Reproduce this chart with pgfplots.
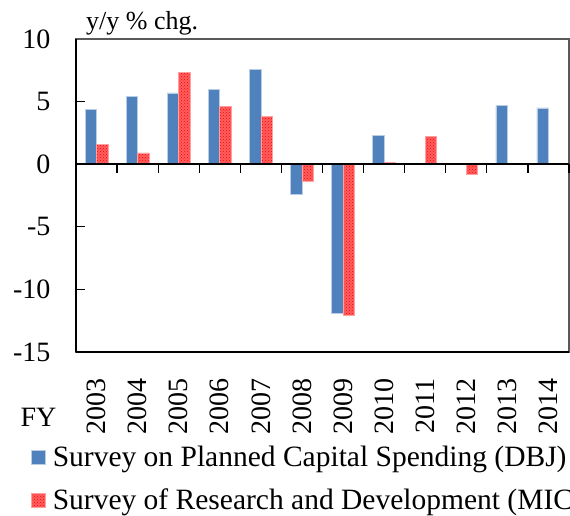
\documentclass[border=0pt]{standalone}
\usepackage{pgfplots}
\pgfplotsset{compat=1.18}
\usepackage{fontspec}
\setmainfont{Liberation Serif}
\usetikzlibrary{patterns}
\definecolor{dbjblue}{RGB}{79,129,189}
\definecolor{dbjedge}{RGB}{185,205,229}
\definecolor{micred}{RGB}{255,95,95}
\begin{document}
\begin{tikzpicture}
\useasboundingbox (0,0) rectangle (570pt,516pt);
\begin{axis}[
  at={(76pt,164pt)}, anchor=south west,
  scale only axis, width=493pt, height=313pt,
  xmin=-0.5, xmax=11.5, ymin=-15, ymax=10,
  ytick={-15,-10,-5,0,5,10},
  yticklabels={-15,-10,-5,0,5,10},
  ytick pos=left, ytick align=inside,
  major tick length=9pt,
  y tick style={black, line width=1.2pt},
  xtick={0,...,11},
  xticklabels={2003,2004,2005,2006,2007,2008,2009,2010,2011,2012,2013,2014},
  x tick style={draw=none},
  xticklabel style={rotate=90, anchor=east},
  xticklabel shift={23pt},
  yticklabel style={xshift=-22pt},
  tick label style={font=\fontsize{28}{34}\selectfont},
  axis line style={draw=black!65, line width=1.2pt},
  legend style={at={(-0.0913,-0.293)}, anchor=north west, draw=none, fill=none,
    inner sep=0pt, font=\fontsize{29.5}{35}\selectfont, row sep=17pt,
    nodes={inner sep=2pt}, /tikz/every odd column/.style={column sep=5pt}},
  legend cell align=left,
  legend image code/.code={\draw[#1] (0pt,-7pt) rectangle (14pt,7pt);},
  clip=false,
]
\addplot[ybar, bar width=11.5pt, bar shift=-5.75pt, fill=dbjblue, draw=dbjedge, line width=0.6pt]
  coordinates {(0,4.4)(1,5.4)(2,5.7)(3,6.0)(4,7.6)(5,-2.4)(6,-11.9)(7,2.3)(10,4.7)(11,4.5)};
\addlegendentry{Survey on Planned Capital Spending (DBJ)}
\addplot[ybar, bar width=11.5pt, bar shift=5.75pt, fill=micred, draw=micred!60, line width=0.6pt,
  postaction={pattern=crosshatch dots, pattern color=red}]
  coordinates {(0,1.6)(1,0.9)(2,7.35)(3,4.6)(4,3.8)(5,-1.4)(6,-12.1)(7,0.15)(8,2.2)(9,-0.8)};
\addlegendentry{Survey of Research and Development (MIC)}
\draw[black, line width=2.4pt] (rel axis cs:0,0) -- (rel axis cs:0,1);
\draw[black, line width=2.4pt] (rel axis cs:0,0) -- (rel axis cs:1,0);
\draw[black, line width=2.4pt] (axis cs:-0.5,0) -- (axis cs:11.5,0);
\pgfplotsinvokeforeach{0.5,1.5,2.5,3.5,4.5,5.5,6.5,7.5,8.5,9.5,10.5,11.5}{
  \draw[black, line width=1.2pt] (axis cs:#1,0) -- ++(0pt,-9pt);
}
\end{axis}
\node[anchor=base west, inner sep=0pt, font=\fontsize{26}{31}\selectfont] at (86pt,486pt) {y/y \% chg.};
\node[anchor=center, inner sep=0pt, font=\fontsize{28}{34}\selectfont] at (38.5pt,99pt) {FY};
\end{tikzpicture}
\end{document}
